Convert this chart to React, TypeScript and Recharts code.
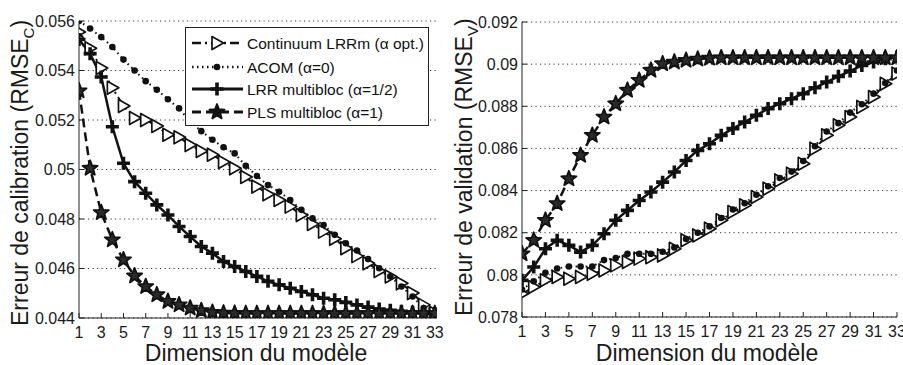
import React from 'react';
import { LineChart, Line, XAxis, YAxis, CartesianGrid, Legend, Label } from 'recharts';

// ---------- data ----------
const dims = [1, 2, 3, 4, 5, 6, 7, 8, 9, 10, 11, 12, 13, 14, 15, 16, 17, 18, 19, 20, 21, 22, 23, 24, 25, 26, 27, 28, 29, 30, 31, 32, 33];
const xTicks = [1, 3, 5, 7, 9, 11, 13, 15, 17, 19, 21, 23, 25, 27, 29, 31, 33];
const calTicks = [0.044, 0.046, 0.048, 0.05, 0.052, 0.054, 0.056];
const valTicks = [0.078, 0.08, 0.082, 0.084, 0.086, 0.088, 0.09, 0.092];

// Calibration error (left)
const calCont = [0.05556, 0.0549, 0.0541, 0.0533, 0.05257, 0.05208, 0.052, 0.05176, 0.0514, 0.0513, 0.05099, 0.05075, 0.0506, 0.0503, 0.05005, 0.0497, 0.04931, 0.049, 0.04877, 0.0485, 0.04816, 0.0478, 0.04749, 0.0472, 0.04682, 0.0465, 0.04621, 0.0459, 0.04568, 0.0454, 0.04501, 0.04453, 0.0442];
const calAcom = [0.056, 0.0557, 0.05535, 0.05495, 0.05444, 0.054, 0.05357, 0.05322, 0.05284, 0.05247, 0.05193, 0.05155, 0.0512, 0.0509, 0.05065, 0.05015, 0.04974, 0.04937, 0.0491, 0.04877, 0.04837, 0.04803, 0.04776, 0.04736, 0.04702, 0.04673, 0.04638, 0.04601, 0.04568, 0.04527, 0.04487, 0.0444, 0.0441];
const calLrr = [0.05525, 0.05468, 0.05374, 0.05173, 0.05025, 0.04951, 0.04904, 0.04857, 0.04816, 0.0477, 0.04729, 0.04689, 0.04662, 0.04628, 0.04608, 0.04588, 0.04568, 0.04548, 0.04534, 0.0452, 0.04507, 0.04494, 0.0448, 0.04474, 0.04463, 0.04453, 0.04444, 0.04436, 0.04431, 0.04427, 0.04423, 0.0442, 0.04417];
const calPls = [0.05318, 0.05005, 0.04826, 0.04716, 0.04635, 0.0457, 0.04527, 0.04494, 0.04467, 0.04453, 0.0444, 0.0443, 0.04423, 0.0442, 0.04419, 0.04418, 0.04418, 0.04418, 0.04418, 0.04418, 0.04418, 0.04418, 0.04418, 0.04418, 0.04418, 0.04418, 0.04418, 0.04418, 0.04418, 0.04418, 0.04418, 0.04418, 0.04418];

// Validation error (right)
const valCont = [0.0791, 0.07942, 0.07974, 0.0799, 0.07982, 0.0799, 0.08005, 0.08021, 0.08045, 0.08061, 0.08077, 0.08084, 0.08092, 0.08124, 0.08164, 0.08187, 0.08219, 0.08259, 0.08298, 0.0833, 0.08369, 0.08409, 0.08448, 0.0848, 0.08527, 0.08599, 0.08662, 0.0871, 0.08749, 0.08797, 0.08844, 0.08907, 0.08955];
const valAcom = [0.0793, 0.0797, 0.0801, 0.0803, 0.0804, 0.0804, 0.0804, 0.0807, 0.0808, 0.081, 0.081, 0.081, 0.0811, 0.0813, 0.0817, 0.082, 0.0823, 0.0827, 0.0831, 0.0834, 0.0838, 0.0842, 0.0846, 0.0849, 0.0854, 0.0861, 0.0868, 0.0872, 0.0877, 0.0881, 0.0886, 0.0891, 0.0897];
const valLrr = [0.07974, 0.08037, 0.08124, 0.08164, 0.0814, 0.08108, 0.0814, 0.08195, 0.08259, 0.08306, 0.08353, 0.08393, 0.0844, 0.08488, 0.08543, 0.08591, 0.08622, 0.08662, 0.08694, 0.08725, 0.08757, 0.08789, 0.08812, 0.08836, 0.0886, 0.08888, 0.08915, 0.08942, 0.08967, 0.08994, 0.0901, 0.09026, 0.09034];
const valPls = [0.081, 0.08164, 0.08259, 0.08338, 0.08456, 0.08567, 0.08662, 0.08749, 0.08812, 0.08876, 0.08923, 0.08971, 0.09002, 0.0901, 0.09018, 0.09024, 0.09028, 0.0903, 0.0903, 0.0903, 0.0903, 0.0903, 0.0903, 0.0903, 0.0903, 0.0903, 0.0903, 0.0903, 0.0903, 0.0903, 0.0903, 0.0903, 0.0903];

const seriesNames = ['Continuum LRRm (α opt.)', 'ACOM (α=0)', 'LRR multibloc (α=1/2)', 'PLS multibloc (α=1)'];

const calData = dims.map((d, i) => ({ dim: d, cont: calCont[i], acom: calAcom[i], lrr: calLrr[i], pls: calPls[i] }));
const valData = dims.map((d, i) => ({ dim: d, cont: valCont[i], acom: valAcom[i], lrr: valLrr[i], pls: valPls[i] }));

// ---------- styles ----------
const FONT = '"Liberation Sans", Arial, Helvetica, sans-serif';
const INK = '#111';
const AX = '#222';

type Kind = 'tri' | 'circle' | 'plus' | 'star';
const SERIES: { key: string; name: string; dash?: string; width: number; kind: Kind }[] = [
  { key: 'cont', name: seriesNames[0], dash: '9 4 2 4', width: 2, kind: 'tri' },
  { key: 'acom', name: seriesNames[1], dash: '1.5 3.5', width: 2, kind: 'circle' },
  { key: 'lrr', name: seriesNames[2], width: 2.5, kind: 'plus' },
  { key: 'pls', name: seriesNames[3], dash: '9 5', width: 2.5, kind: 'star' },
];

function starPoints(cx: number, cy: number, ro: number, ri: number) {
  const pts: string[] = [];
  for (let k = 0; k < 10; k++) {
    const r = k % 2 === 0 ? ro : ri;
    const a = -Math.PI / 2 + (k * Math.PI) / 5;
    pts.push(`${cx + r * Math.cos(a)},${cy + r * Math.sin(a)}`);
  }
  return pts.join(' ');
}

function Marker({ kind, cx, cy, legend }: { kind: Kind; cx: number; cy: number; legend?: boolean }) {
  switch (kind) {
    case 'tri':
      return <polygon points={`${cx - 5},${cy - 6.5} ${cx + 6.5},${cy} ${cx - 5},${cy + 6.5}`} fill="#fff" stroke={INK} strokeWidth={1.7} strokeLinejoin="round" />;
    case 'circle':
      return <circle cx={cx} cy={cy} r={3.3} fill={INK} />;
    case 'plus':
      return <path d={`M${cx - 6.5},${cy}H${cx + 6.5}M${cx},${cy - 6.5}V${cy + 6.5}`} stroke={INK} strokeWidth={3.6} fill="none" />;
    case 'star':
      return <polygon points={starPoints(cx, cy, 8, 3.4)} fill={legend ? INK : '#2a2a2a'} stroke={INK} strokeWidth={1.8} strokeLinejoin="round" />;
  }
  return null;
}

const makeDot = (kind: Kind) => (p: any) => {
  if (p == null || p.cx == null || p.cy == null) return <g key={`e${p?.index}`} />;
  return (
    <g key={`${kind}-${p.index}`}>
      <Marker kind={kind} cx={p.cx} cy={p.cy} />
    </g>
  );
};

function LegendBox() {
  const rows = [
    { s: SERIES[0], y: 16 },
    { s: SERIES[1], y: 40 },
    { s: SERIES[2], y: 62 },
    { s: SERIES[3], y: 85 },
  ];
  return (
    <svg width={245} height={100} style={{ display: 'block' }}>
      <rect x={0.5} y={0.5} width={243} height={98} fill="#fff" stroke={AX} strokeWidth={1} />
      {rows.map(({ s, y }) => (
        <g key={s.key}>
          <line x1={7} x2={58} y1={y} y2={y} stroke={INK} strokeWidth={s.width + 0.7} strokeDasharray={s.dash} />
          <Marker kind={s.kind} cx={32} cy={y} legend />
          <text x={62} y={y + 5.5} fontFamily={FONT} fontSize={15.5} fill={INK}>{s.name}</text>
        </g>
      ))}
    </svg>
  );
}

const tickStyle = { fontFamily: FONT, fontSize: 16, fill: '#1a1a1a' };

function Panel({ data, yTicks, yDomain, xDomain, width, yAxisWidth, rightMargin, top, bottom, yTitle, sub, yTitleX, yTitleY, xTitleX, withLegend }: any) {
  return (
    <LineChart width={width} height={365} data={data} margin={{ top, right: rightMargin, bottom: 0, left: 0 }}>
      <CartesianGrid vertical={false} horizontal stroke="#333" strokeDasharray="1.2 3.3" />
      <XAxis dataKey="dim" type="number" domain={xDomain} ticks={xTicks} allowDataOverflow interval={0}
        height={bottom} axisLine={{ stroke: AX }} tickLine={{ stroke: AX }} tickSize={-5} tickMargin={14} tick={tickStyle}>
        <Label content={() => (
          <text x={xTitleX} y={361} textAnchor="middle" fontFamily={FONT} fontSize={23} fill="#1a1a1a">Dimension du modèle</text>
        )} />
      </XAxis>
      <XAxis xAxisId="top" orientation="top" dataKey="dim" type="number" domain={xDomain} ticks={xTicks} allowDataOverflow height={0}
        axisLine={{ stroke: AX }} tickLine={{ stroke: AX }} tickSize={-5} tick={false} />
      <YAxis type="number" domain={yDomain} ticks={yTicks} allowDataOverflow width={yAxisWidth} interval={0}
        axisLine={{ stroke: AX }} tickLine={{ stroke: AX }} tickSize={-5} tickMargin={9} tick={tickStyle}>
        <Label content={() => (
          <text transform={`translate(${yTitleX},${yTitleY}) rotate(-90)`} x={0} y={0} textAnchor="start" fontFamily={FONT} fontSize={23} fill="#1a1a1a">
            Erreur de {yTitle} (RMSE<tspan fontSize={15} dy={6}>{sub}</tspan><tspan dy={-6}>)</tspan>
          </text>
        )} />
      </YAxis>
      <YAxis yAxisId="right" orientation="right" type="number" domain={yDomain} ticks={yTicks} allowDataOverflow width={0}
        axisLine={{ stroke: AX }} tickLine={{ stroke: AX }} tickSize={-5} tick={false} />
      {SERIES.map((s) => (
        <Line key={s.key} dataKey={s.key} name={s.name} type="linear" stroke={INK} strokeWidth={s.width}
          strokeDasharray={s.dash} dot={makeDot(s.kind)} activeDot={false} isAnimationActive={false} />
      ))}
      {withLegend && (
        <Legend layout="vertical" align="center" verticalAlign="middle"
          wrapperStyle={{ left: 185, top: 27, width: 245, height: 100 }} content={() => <LegendBox />} />
      )}
    </LineChart>
  );
}

export default function App() {
  return (
    <div style={{ position: 'absolute', left: 0, top: 0, width: 903, height: 365, background: '#fff', overflow: 'hidden' }}>
      <div style={{ position: 'absolute', left: 0, top: 0 }}>
        <Panel data={calData} yTicks={calTicks} yDomain={[0.044, 0.056]} xDomain={[1, 33.2]} width={450}
          yAxisWidth={79} rightMargin={13} top={21} bottom={47} yTitle="calibration" sub="C"
          yTitleX={28} yTitleY={326} xTitleX={256} withLegend />
      </div>
      <div style={{ position: 'absolute', left: 450, top: 0 }}>
        <Panel data={valData} yTicks={valTicks} yDomain={[0.078, 0.092]} xDomain={[1, 33]} width={453}
          yAxisWidth={72} rightMargin={6} top={22} bottom={48} yTitle="validation" sub="V"
          yTitleX={22} yTitleY={316} xTitleX={257} />
      </div>
    </div>
  );
}
